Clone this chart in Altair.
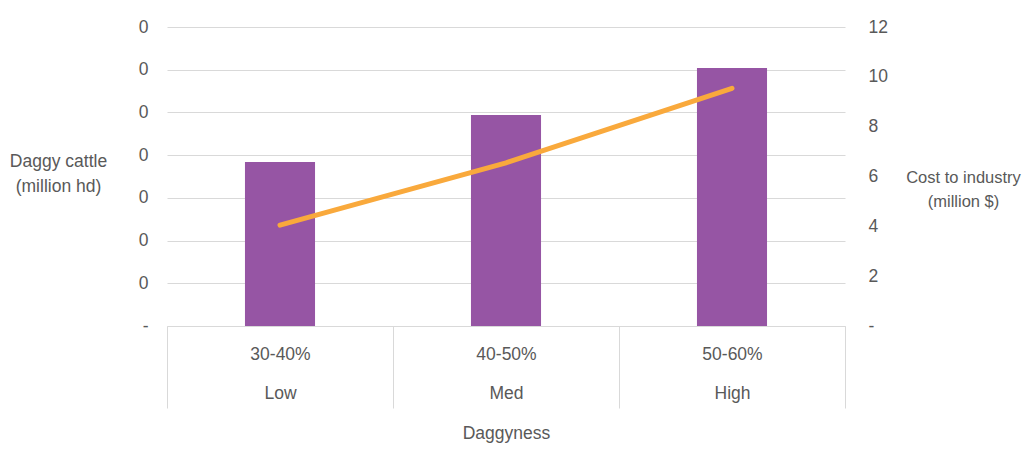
import altair as alt
import pandas as pd

ranges = ["30-40%", "40-50%", "50-60%"]
levels = ["Low", "Med", "High"]
cattle = [0.192, 0.247, 0.302]      # million hd (left axis)
cost = [4.05, 6.55, 9.54]           # million $ (right axis)
left_ticks = [0, 0.05, 0.10, 0.15, 0.20, 0.25, 0.30, 0.35]
right_ticks = [0, 2, 4, 6, 8, 10, 12]

df = pd.DataFrame({
    "cat": [f"{r}|{l}" for r, l in zip(ranges, levels)],
    "cattle": cattle,
    "cost": cost,
})

FONT = "Liberation Sans"
TXT = "#595959"
GRID = "#D9D9D9"
FS = 17.5

x_enc = alt.X(
    "cat:N",
    sort=None,
    scale=alt.Scale(paddingInner=0, paddingOuter=0),
    axis=alt.Axis(
        title="Daggyness",
        labelExpr="split(datum.label, '|')",
        labelAngle=0,
        labelBaseline="alphabetic",
        labelLineHeight=39,
        labelPadding=-49,
        tickBand="extent",
        tickSize=82,
        tickColor=GRID,
        domainColor=GRID,
        titleY=112,
        titleBaseline="alphabetic",
        titleFontWeight="normal",
    ),
)

bars = alt.Chart(df).mark_bar(color="#9655A4", width=alt.RelativeBandSize(0.31)).encode(
    x=x_enc,
    y=alt.Y(
        "cattle:Q",
        scale=alt.Scale(domain=[0, 0.35], nice=False),
        axis=alt.Axis(
            values=left_ticks,
            labelExpr="datum.value == 0 ? '-' : format(datum.value, '.0f')",
            title=["Daggy cattle", "(million hd)"],
            titleAngle=0,
            titleAlign="center",
            titleBaseline="alphabetic",
            titleX=-109,
            titleY=139,
            titleLineHeight=25,
            titleFontWeight="normal",
            grid=True,
            gridColor=GRID,
            domain=False,
            ticks=False,
            labelPadding=19,
        ),
    ),
)

line = alt.Chart(df).mark_line(color="#F9A93C", strokeWidth=5, strokeCap="round").encode(
    x=alt.X("cat:N", sort=None),
    y=alt.Y(
        "cost:Q",
        scale=alt.Scale(domain=[0, 12], nice=False),
        axis=alt.Axis(
            orient="right",
            values=right_ticks,
            labelExpr="datum.value == 0 ? '-' : format(datum.value, 'd')",
            title=["Cost to industry", "(million $)"],
            titleAngle=0,
            titleAlign="center",
            titleBaseline="alphabetic",
            titleX=118,
            titleY=155,
            titleLineHeight=24,
            titleFontSize=16.5,
            titleFontWeight="normal",
            grid=False,
            domain=False,
            ticks=False,
            labelPadding=23,
        ),
    ),
)

chart = (
    alt.layer(bars, line)
    .resolve_scale(y="independent")
    .properties(
        width=678,
        height=299,
        autosize=alt.AutoSizeParams(type="none"),
        padding={"left": 159, "top": 19, "right": 179, "bottom": 118},
    )
    .configure_view(stroke=None)
    .configure_axis(
        labelFont=FONT,
        titleFont=FONT,
        labelFontSize=FS,
        titleFontSize=FS,
        labelColor=TXT,
        titleColor=TXT,
    )
)

chart.save("out.html", embed_options={"renderer": "svg", "actions": False})
